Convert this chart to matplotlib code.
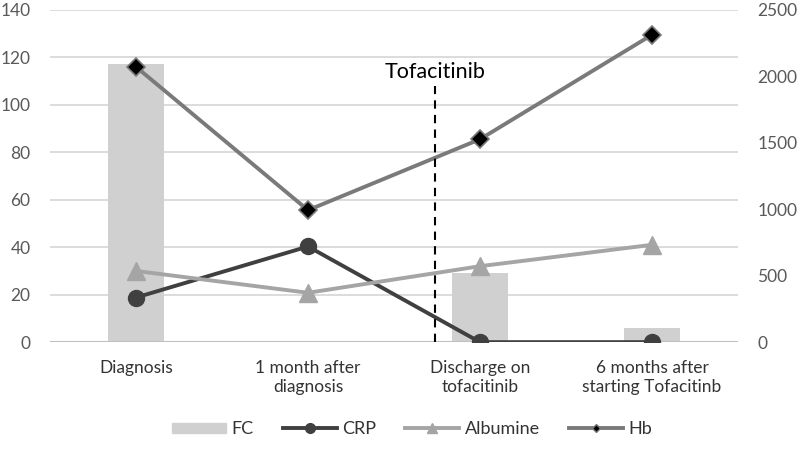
import matplotlib
matplotlib.use("Agg")
import matplotlib.pyplot as plt
from matplotlib.lines import Line2D
from matplotlib.patches import Patch
import numpy as np

categories = ["Diagnosis", "1 month after\ndiagnosis", "Discharge on\ntofacitinib", "6 months after\nstarting Tofacitinb"]
fc = [2090, 0, 522, 105]          # right axis
crp = [18.8, 40.3, 0, 0]          # left axis
albumine = [30, 20.8, 32, 41]     # left axis
hb = [116, 55.6, 85.5, 129.5]     # left axis
left_ticks = [0, 20, 40, 60, 80, 100, 120, 140]
right_ticks = [0, 500, 1000, 1500, 2000, 2500]
event_label = "Tofacitinib"
event_pos = 1.74
event_top = 108

plt.rcParams['font.family'] = ['Lato', 'DejaVu Sans']
fig = plt.figure(figsize=(8, 4.49), dpi=100)
ax = fig.add_axes([0.0625, 0.238, 0.86, 0.74])
ax2 = ax.twinx()
x = np.arange(len(categories))

ax.set_zorder(ax2.get_zorder() + 1)
ax.patch.set_visible(False)

c_fc, c_crp, c_alb, c_hb = "#d0d0d0", "#404040", "#a5a5a5", "#7a7a7a"

ax2.bar(x, fc, width=0.32, color=c_fc, zorder=2)
ax2.set_ylim(0, 2500)
ax2.set_yticks(right_ticks)

ax.set_ylim(0, 140)
ax.set_xlim(-0.5, 3.5)
ax.set_yticks(left_ticks)
for t in left_ticks:
    ax2.axhline(t * 2500 / 140, color="#d9d9d9", lw=1.3, zorder=0)

ax.plot(x, crp, color=c_crp, lw=2.8, marker="o", ms=11.5, zorder=4)
ax.plot(x, albumine, color=c_alb, lw=2.8, marker="^", ms=13, zorder=4)
ax.plot(x, hb, color=c_hb, lw=2.8, marker="D", ms=9, mfc="black", mec=c_hb, mew=1.2, zorder=5)

ax.plot([event_pos, event_pos], [0, event_top], color="black", lw=1.5, ls=(0, (4, 3)), zorder=6)
ax.text(event_pos, event_top + 1.5, event_label, ha="center", va="bottom", fontsize=15.5, color="black")

for a in (ax, ax2):
    for s in a.spines.values():
        s.set_visible(False)
    a.tick_params(length=0, colors="#595959", labelsize=12.5)
ax.tick_params(axis="y", pad=14)
ax2.tick_params(axis="y", pad=14)
ax.tick_params(axis="x", pad=13, labelsize=12.5)
ax.set_xticks(x)
ax.set_xticklabels(categories, color="#333333")
ax.axhline(0, color="#bfbfbf", lw=1.5, zorder=1)

handles = [
    Patch(color=c_fc),
    Line2D([], [], color=c_crp, lw=2.8, marker="o", ms=7),
    Line2D([], [], color=c_alb, lw=2.8, marker="^", ms=7),
    Line2D([], [], color=c_hb, lw=2.8, marker="D", ms=4, mfc="black", mec=c_hb),
]
labels = ["FC", "CRP", "Albumine", "Hb"]
fig.legend(handles, labels, loc="lower center", ncol=4,
           bbox_to_anchor=(0.515, -0.01), frameon=False, fontsize=13,
           handlelength=3, handleheight=0.5, columnspacing=1.6, handletextpad=0.3,
           labelcolor="#333333")

fig.savefig("out.png", dpi=100)
